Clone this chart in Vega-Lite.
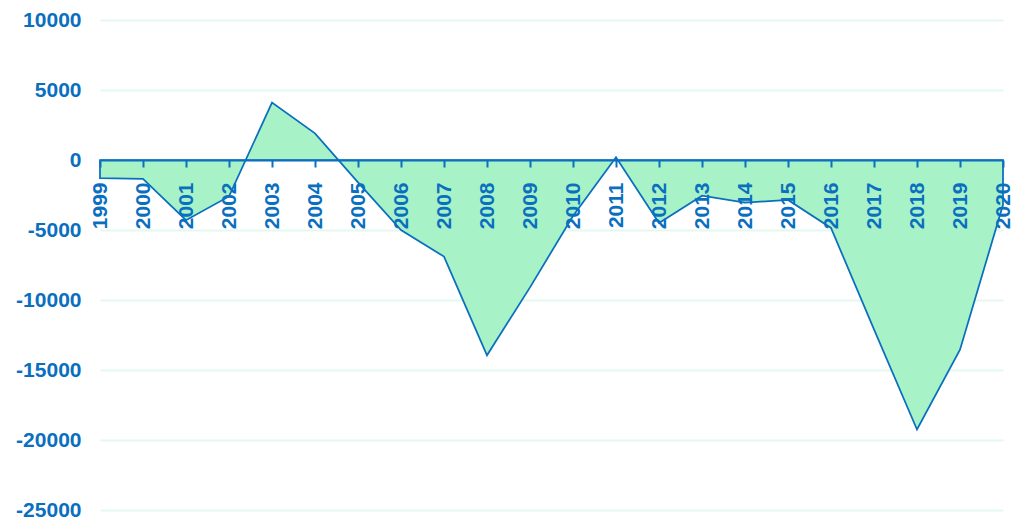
{
  "$schema": "https://vega.github.io/schema/vega-lite/v6.json",
  "autosize": "none",
  "width": 903,
  "height": 490,
  "padding": {"left": 100, "top": 20, "right": 14, "bottom": 13},
  "background": "#ffffff",
  "config": {
    "view": {"stroke": null},
    "font": "Liberation Sans"
  },
  "data": {
    "values": [
      {"year": "1999", "value": -1300},
      {"year": "2000", "value": -1350},
      {"year": "2001", "value": -4300},
      {"year": "2002", "value": -2600},
      {"year": "2003", "value": 4100},
      {"year": "2004", "value": 1900},
      {"year": "2005", "value": -1600},
      {"year": "2006", "value": -5000},
      {"year": "2007", "value": -6900},
      {"year": "2008", "value": -13950},
      {"year": "2009", "value": -9100},
      {"year": "2010", "value": -4000},
      {"year": "2011", "value": 200},
      {"year": "2012", "value": -4500},
      {"year": "2013", "value": -2550},
      {"year": "2014", "value": -3050},
      {"year": "2015", "value": -2850},
      {"year": "2016", "value": -4850},
      {"year": "2017", "value": -12100},
      {"year": "2018", "value": -19250},
      {"year": "2019", "value": -13550},
      {"year": "2020", "value": -3200}
    ]
  },
  "mark": {
    "type": "area",
    "color": "#a8f2c7",
    "fillOpacity": 1,
    "stroke": "#0a6fbf",
    "strokeWidth": 1.75,
    "strokeJoin": "miter"
  },
  "encoding": {
    "x": {
      "field": "year",
      "type": "ordinal",
      "sort": null,
      "scale": {"type": "point", "padding": 0},
      "axis": {
        "title": null,
        "orient": "bottom",
        "offset": -350,
        "zindex": 1,
        "domain": true,
        "domainColor": "#0a6fbf",
        "domainWidth": 2,
        "ticks": true,
        "tickColor": "#0a6fbf",
        "tickWidth": 2,
        "tickSize": 7,
        "labelAngle": -90,
        "labelFontSize": 21,
        "labelFontWeight": "bold",
        "labelColor": "#0a6fbf",
        "labelPadding": 15,
        "grid": false
      }
    },
    "y": {
      "field": "value",
      "type": "quantitative",
      "scale": {"domain": [-25000, 10000], "nice": false, "zero": false},
      "axis": {
        "title": null,
        "values": [-25000, -20000, -15000, -10000, -5000, 0, 5000, 10000],
        "labelExpr": "datum.value + ''",
        "domain": false,
        "ticks": false,
        "labelFontSize": 21,
        "labelFontWeight": "bold",
        "labelColor": "#0a6fbf",
        "labelPadding": 19,
        "grid": true,
        "gridColor": "#e3f9ef",
        "gridWidth": 2
      }
    }
  }
}
